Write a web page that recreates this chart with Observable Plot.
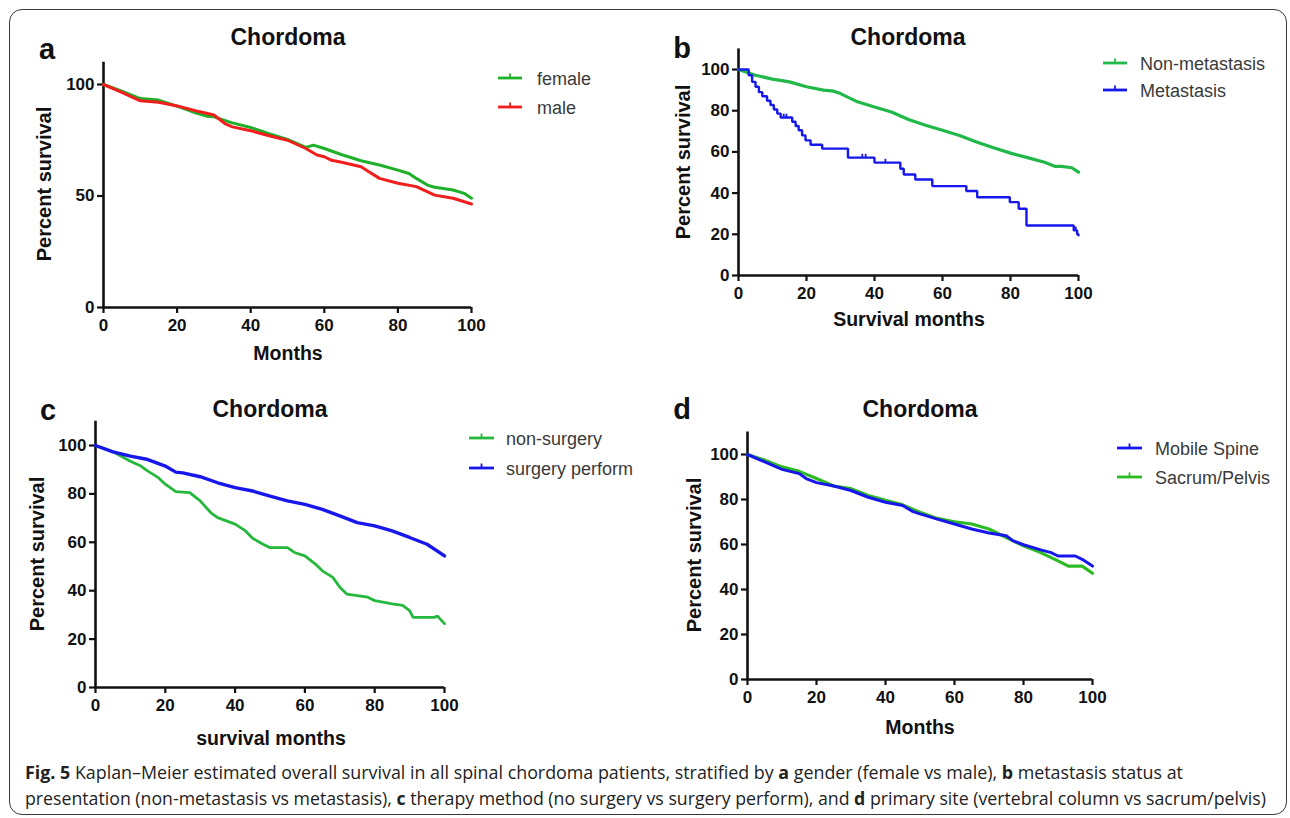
<!DOCTYPE html>
<html>
<head>
<meta charset="utf-8">
<script src="https://cdn.jsdelivr.net/npm/d3@7"></script>
<script src="https://cdn.jsdelivr.net/npm/@observablehq/plot@0.6"></script>
<style>
  html, body { margin: 0; padding: 0; background: #fff; }
  body { width: 1290px; height: 818px; position: relative; overflow: hidden; font-family: "Liberation Sans", Arial, sans-serif; }
  .frame { position: absolute; left: 9px; top: 9px; width: 1278px; height: 806px; border: 1.6px solid #3a3a3a; border-radius: 13px; box-sizing: border-box; }
  .plotbox { position: absolute; }
  #overlay { position: absolute; left: 0; top: 0; pointer-events: none; }
</style>
</head>
<body>
<div class="frame"></div>
<div id="plots"></div>
<svg id="overlay" width="1290" height="818"></svg>
<script>
// ---------- DATA ----------
const xTicks = [0, 20, 40, 60, 80, 100];
const yTicksA = [0, 50, 100];
const yTicksBCD = [0, 20, 40, 60, 80, 100];

// Panel a: gender
const femaleMonths = [0, 5, 10, 15, 20, 25, 28, 30, 35, 40, 45, 50, 55, 57, 60, 65, 70, 75, 80, 83, 85, 88, 90, 95, 98, 100];
const femaleSurv   = [100, 97, 93.7, 93, 90.3, 87.3, 85.8, 85.5, 82.8, 80.7, 78, 75.4, 71.8, 72.8, 71.3, 68.4, 65.8, 63.9, 61.6, 60.1, 57.9, 54.9, 53.9, 52.7, 51.2, 49];
const maleMonths   = [0, 5, 10, 15, 20, 25, 30, 33, 35, 40, 45, 50, 55, 58, 60, 62, 65, 70, 72, 75, 80, 85, 90, 95, 100];
const maleSurv     = [100, 96.5, 92.7, 92, 90.4, 88.2, 86.3, 82.5, 81, 79.3, 77, 75, 71.3, 68.4, 67.6, 66, 65, 63.1, 61, 57.9, 55.7, 54.2, 50.4, 49, 46.4];

// Panel b: metastasis status
const nonMetMonths = [0, 5, 10, 15, 20, 25, 28, 30, 35, 40, 45, 50, 55, 60, 65, 70, 75, 80, 85, 90, 93, 95, 98, 100];
const nonMetSurv   = [100, 97.2, 95.3, 94, 91.6, 90, 89.5, 88.3, 84.3, 81.8, 79.4, 75.7, 72.9, 70.5, 68, 64.8, 62, 59.4, 57.2, 55, 53, 53, 52.3, 50.2];
const metMonths    = [0, 3, 4, 5, 6, 7, 8.4, 9.4, 10.4, 11.4, 12.4, 15.8, 16.8, 17.7, 18.7, 19.7, 21.2, 24.6, 32.2, 40, 47.6, 48.6, 52, 57, 67, 70.2, 79.8, 82.4, 84.7, 98.6, 99.6, 100];
const metSurv      = [100, 97.2, 94, 91.6, 89, 87, 84.8, 82.8, 80.6, 78.6, 76.7, 74.6, 72.6, 70.5, 68, 65.6, 63.5, 61.6, 57.2, 54.8, 51.8, 49, 46.6, 43.4, 41, 38, 35.6, 32.4, 24.3, 21.9, 20, 19.5];
const metCensorMonths = [13.3, 14.1, 24.6, 36.4, 37.4, 43.2, 99.2];
const metCensorSurv   = [76.7, 76.7, 61.6, 57.2, 57.2, 54.8, 21.9];

// Panel c: therapy
const nonSurgMonths = [0, 5, 10, 13, 15, 18, 20, 23, 27, 30, 33, 35, 40, 43, 45, 48, 50, 55, 57, 60, 63, 65, 68, 70, 72, 75, 78, 80, 85, 88, 90, 91, 97, 98, 100];
const nonSurgSurv   = [100, 97.4, 93.5, 91.5, 89.4, 86.7, 84, 80.9, 80.5, 77.1, 72.3, 70.2, 67.5, 64.7, 61.7, 59.2, 57.8, 57.8, 55.8, 54.4, 51, 48.2, 45.5, 41.4, 38.6, 38, 37.3, 35.9, 34.6, 33.9, 31.8, 29, 29, 29.5, 26.4];
const surgMonths    = [0, 5, 10, 15, 20, 23, 25, 30, 35, 40, 45, 50, 55, 60, 65, 70, 75, 80, 85, 90, 95, 100];
const surgSurv      = [100, 97.4, 95.6, 94.2, 91.5, 89, 88.7, 87.1, 84.6, 82.6, 81.2, 79.1, 77.1, 75.7, 73.6, 70.9, 68.1, 66.8, 64.7, 62, 59.2, 54.4];

// Panel d: primary site
const spineMonths  = [0, 5, 10, 15, 17, 20, 25, 30, 35, 40, 45, 48, 50, 55, 60, 65, 70, 75, 77, 80, 85, 88, 90, 95, 97, 100];
const spineSurv    = [100, 96.7, 93.4, 91.5, 89.3, 87.5, 86, 84, 81, 78.8, 77.3, 74.6, 73.6, 71.3, 69.1, 66.9, 65.1, 63.9, 61.6, 59.9, 57.6, 56.4, 54.9, 54.9, 53.4, 50.4];
const sacrumMonths = [0, 5, 10, 15, 20, 25, 30, 35, 40, 45, 50, 55, 60, 65, 70, 75, 80, 85, 90, 93, 97, 100];
const sacrumSurv   = [100, 97.5, 94.5, 92.5, 89.3, 86, 84.8, 81.8, 79.6, 77.6, 74.3, 71.6, 70.1, 69.1, 66.9, 63.1, 59.4, 56.4, 52.7, 50.4, 50.4, 47.2];

// ---------- COLOURS ----------
const GREEN_A = "#1fb02a", RED = "#f21d1d", GREEN_B = "#21b84a", BLUE = "#1717ec", GREEN_C = "#25b83c", GREEN_D = "#2cbb22";

const rows = (t, s) => t.map((m, i) => ({ t: m, s: s[i] }));

// ---------- PANELS ----------
const panels = [
  { L: 0, T: 0, W: 640, H: 380, x0: 103, x1: 471, y0: 307, y100: 84, yTicks: yTicksA,
    series: [
      { t: femaleMonths, s: femaleSurv, color: GREEN_A, curve: "linear", w: 3 },
      { t: maleMonths, s: maleSurv, color: RED, curve: "linear", w: 3 }
    ] },
  { L: 640, T: 0, W: 650, H: 380, x0: 738, x1: 1078, y0: 275, y100: 69, yTicks: yTicksBCD,
    series: [
      { t: nonMetMonths, s: nonMetSurv, color: GREEN_B, curve: "linear", w: 3.2 },
      { t: metMonths, s: metSurv, color: BLUE, curve: "step-after", w: 2.4, censor: { t: metCensorMonths, s: metCensorSurv } }
    ] },
  { L: 0, T: 380, W: 640, H: 380, x0: 95, x1: 444, y0: 687, y100: 445, yTicks: yTicksBCD,
    series: [
      { t: nonSurgMonths, s: nonSurgSurv, color: GREEN_C, curve: "linear", w: 2.8 },
      { t: surgMonths, s: surgSurv, color: BLUE, curve: "linear", w: 3.4 }
    ] },
  { L: 640, T: 380, W: 650, H: 380, x0: 747, x1: 1092, y0: 679, y100: 454, yTicks: yTicksBCD,
    series: [
      { t: sacrumMonths, s: sacrumSurv, color: GREEN_D, curve: "linear", w: 3.2 },
      { t: spineMonths, s: spineSurv, color: BLUE, curve: "linear", w: 3 }
    ] }
];

const host = document.getElementById("plots");
for (const p of panels) {
  const yTop = p.y0 - 1.1 * (p.y0 - p.y100);
  const marks = [
    Plot.axisX({ ticks: xTicks, tickSize: 6, tickPadding: 5, strokeWidth: 2.2, label: null, fontSize: 17, fontWeight: "bold" }),
    Plot.axisY({ ticks: p.yTicks, tickSize: 6, tickPadding: 3, strokeWidth: 2.2, label: null, fontSize: 17, fontWeight: "bold" }),
    Plot.ruleX([0], { y1: 0, y2: 110, strokeWidth: 2.6, stroke: "#111" }),
    Plot.ruleY([0], { x1: 0, x2: 100, strokeWidth: 2.6, stroke: "#111" })
  ];
  for (const s of p.series) {
    marks.push(Plot.line(rows(s.t, s.s), { x: "t", y: "s", stroke: s.color, strokeWidth: s.w, curve: s.curve, strokeLinejoin: "miter" }));
    if (s.censor) {
      marks.push(Plot.ruleX(rows(s.censor.t, s.censor.s), { x: "t", y1: "s", y2: d => d.s + 1.6, stroke: s.color, strokeWidth: 1.8 }));
    }
  }
  const svg = Plot.plot({
    width: p.W, height: p.H,
    marginLeft: p.x0 - p.L, marginRight: p.L + p.W - p.x1,
    marginTop: yTop - p.T, marginBottom: p.T + p.H - p.y0,
    x: { domain: [0, 100] },
    y: { domain: [0, 110] },
    style: { fontFamily: "Liberation Sans, Arial, sans-serif", fontSize: "17px", fontWeight: "bold", color: "#111", background: "transparent", overflow: "visible" },
    marks
  });
  svg.classList.add("plotbox");
  svg.style.left = p.L + "px";
  svg.style.top = p.T + "px";
  host.appendChild(svg);
}

// ---------- TEXT: titles, panel letters, axis labels, legends, caption ----------
const ov = d3.select("#overlay");
const txt = (x, y, s, o = {}) => ov.append("text").attr("x", x).attr("y", y)
  .attr("font-family", o.family || "Liberation Sans, Arial, sans-serif")
  .attr("font-size", o.size || 16).attr("font-weight", o.weight || "bold")
  .attr("fill", o.fill || "#111").attr("text-anchor", o.anchor || "middle")
  .attr("transform", o.rotate ? `rotate(-90 ${x} ${y})` : null).text(s);

const titles = [[288, 45], [908, 45], [270, 417], [920, 417]];
titles.forEach(([x, y]) => txt(x, y, "Chordoma", { size: 23 }));
[["a", 47, 59], ["b", 682, 58], ["c", 48, 420], ["d", 682, 419]].forEach(([l, x, y]) => txt(x, y, l, { size: 29 }));

const xLabels = [["Months", 288, 360], ["Survival months", 909, 326], ["survival months", 271, 745], ["Months", 920, 734]];
xLabels.forEach(([s, x, y]) => txt(x, y, s, { size: 19.5 }));
const yLabels = [[51, 184], [690, 162], [44, 554], [701, 555]];
yLabels.forEach(([x, y]) => txt(x, y, "Percent survival", { size: 20, rotate: true }));

const legends = [
  { x1: 498, x2: 522, tx: 537, items: [["female", GREEN_A, 78], ["male", RED, 107]] },
  { x1: 1103, x2: 1127, tx: 1140, items: [["Non-metastasis", GREEN_B, 63], ["Metastasis", BLUE, 90]] },
  { x1: 469, x2: 494, tx: 506, items: [["non-surgery", GREEN_C, 438], ["surgery perform", BLUE, 468]] },
  { x1: 1117, x2: 1142, tx: 1155, items: [["Mobile Spine", BLUE, 448], ["Sacrum/Pelvis", GREEN_D, 477]] }
];
for (const lg of legends) {
  for (const [name, col, y] of lg.items) {
    ov.append("line").attr("x1", lg.x1).attr("x2", lg.x2).attr("y1", y).attr("y2", y).attr("stroke", col).attr("stroke-width", 2.8);
    const mx = (lg.x1 + lg.x2) / 2;
    ov.append("line").attr("x1", mx).attr("x2", mx).attr("y1", y).attr("y2", y - 4.5).attr("stroke", col).attr("stroke-width", 1.8);
    txt(lg.tx, y + 6.5, name, { size: 18, weight: "normal", anchor: "start", fill: "#3a3a3a" });
  }
}

// caption
const capFont = "Open Sans, Noto Sans, sans-serif";
const cap1 = ov.append("text").attr("x", 25).attr("y", 779).attr("font-family", capFont).attr("font-size", 17.5)
  .attr("fill", "#222").attr("textLength", 1158).attr("lengthAdjust", "spacingAndGlyphs");
cap1.append("tspan").attr("font-weight", "bold").text("Fig. 5");
cap1.append("tspan").text(" Kaplan–Meier estimated overall survival in all spinal chordoma patients, stratified by ");
cap1.append("tspan").attr("font-weight", "bold").text("a");
cap1.append("tspan").text(" gender (female vs male), ");
cap1.append("tspan").attr("font-weight", "bold").text("b");
cap1.append("tspan").text(" metastasis status at");
const cap2 = ov.append("text").attr("x", 25).attr("y", 805).attr("font-family", capFont).attr("font-size", 17.5)
  .attr("fill", "#222").attr("textLength", 1241).attr("lengthAdjust", "spacingAndGlyphs");
cap2.append("tspan").text("presentation (non-metastasis vs metastasis), ");
cap2.append("tspan").attr("font-weight", "bold").text("c");
cap2.append("tspan").text(" therapy method (no surgery vs surgery perform), and ");
cap2.append("tspan").attr("font-weight", "bold").text("d");
cap2.append("tspan").text(" primary site (vertebral column vs sacrum/pelvis)");
</script>
</body>
</html>
